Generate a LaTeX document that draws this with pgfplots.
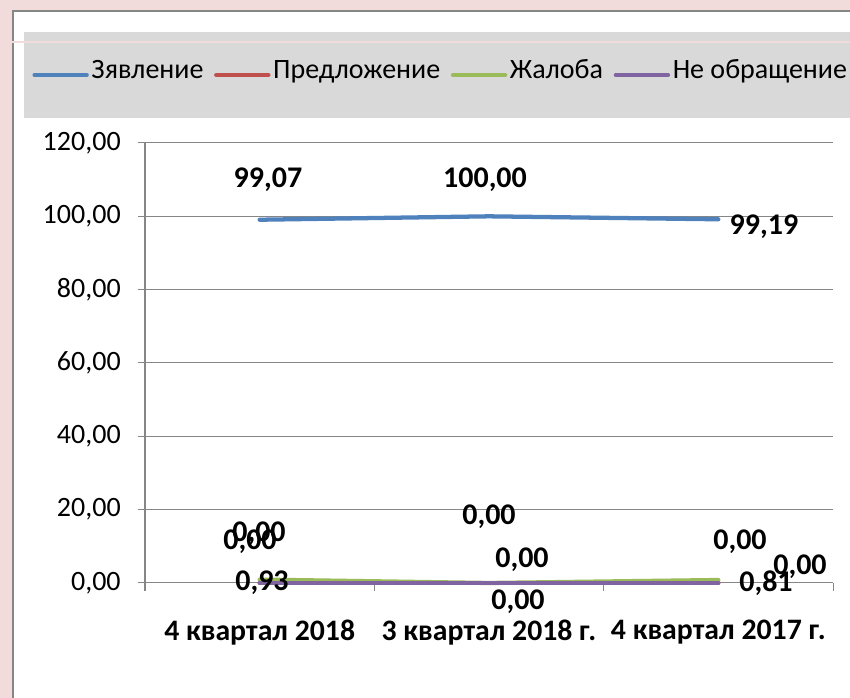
\documentclass[border=0pt]{standalone}
\usepackage{fontspec}
\setmainfont{Carlito}
\usepackage{pgfplots}
\pgfplotsset{compat=1.18}
\definecolor{bgpink}{HTML}{F2DCDB}
\definecolor{band}{HTML}{D9D9D9}
\definecolor{axgray}{HTML}{868686}
\definecolor{framegray}{HTML}{868686}
\definecolor{sblue}{HTML}{4F81BD}
\definecolor{sred}{HTML}{C0504D}
\definecolor{sgreen}{HTML}{9BBB59}
\definecolor{spurple}{HTML}{8064A2}
\begin{document}
\begin{tikzpicture}[x=0.75pt,y=0.75pt]
\fill[bgpink] (0,0) rectangle (850,698);
\fill[white] (13,-2) rectangle (852,687);
\draw[framegray, line width=1.5pt] (13,-2) -- (13,687) -- (852,687);
\fill[band] (24,580) rectangle (852,666);
\draw[bgpink, line width=1.1pt] (10,656) -- (852,656);
\begin{axis}[
  at={(108.75pt,86.25pt)}, anchor=south west, scale only axis,
  width=516pt, height=330pt,
  xmin=0.5, xmax=3.5, ymin=0, ymax=120,
  clip=false,
  axis lines*=left,
  axis line style={axgray, line width=0.75pt},
  ytick={0,20,...,120},
  ymajorgrids, grid style={axgray, line width=0.75pt},
  xtick={1,2,3},
  xticklabels={4 квартал 2018, 3 квартал 2018 г., 4 квартал 2017 г.},
  xtick style={draw=none},
  extra x ticks={0.5,1.5,2.5,3.5}, extra x tick labels={},
  extra x tick style={xtick style={draw=axgray, line width=0.75pt}, major tick length=6pt},
  ytick style={axgray, line width=0.75pt},
  tick align=outside, major tick length=5.25pt,
  yticklabel style={font=\fontsize{21}{25}\selectfont, anchor=east, inner sep=0pt, xshift=-12.8pt},
  xticklabel style={font=\bfseries\fontsize{22.3}{26}\selectfont, anchor=north, inner sep=0pt, yshift=-22.5pt},
  y tick label style={/pgf/number format/.cd, fixed, fixed zerofill, precision=2, use comma, assume math mode=true},
  legend style={at={(axis description cs:-0.164,1.1545)}, anchor=west, draw=none, fill=none, inner sep=0pt,
    font=\fontsize{21}{25}\selectfont, legend columns=4,
    /tikz/every even column/.append style={column sep=6pt},
    nodes={inner xsep=2pt, inner ysep=0pt, text height=0.72em, text depth=0.22em}},
  legend cell align=left,
  legend image code/.code={\draw[#1, line width=3.3pt, line cap=round] (0pt,0pt) -- (39pt,0pt);},
]
\addplot[sblue, line width=3.2pt, line cap=round] coordinates {(1,99.07) (2,100) (3,99.19)};
\addplot[sred, line width=3.2pt, line cap=round] coordinates {(1,0) (2,0) (3,0)};
\addplot[sgreen, line width=3.2pt, line cap=round] coordinates {(1,0.93) (2,0) (3,0.81)};
\addplot[spurple, line width=3.2pt, line cap=round] coordinates {(1,0) (2,0) (3,0)};
\legend{Зявление, Предложение, Жалоба, Не обращение}
\end{axis}
\tikzset{lbl/.style={font=\bfseries\fontsize{22.5}{26}\selectfont, inner sep=0pt}}
\node[lbl] at (268,518) {99,07};
\node[lbl] at (485,518) {100,00};
\node[lbl] at (764,471) {99,19};
\node[lbl] at (250,156) {0,00};
\node[lbl] at (259,164) {0,00};
\node[lbl] at (262,115) {0,93};
\node[lbl] at (489,181) {0,00};
\node[lbl] at (522,138) {0,00};
\node[lbl] at (518,96) {0,00};
\node[lbl] at (740,156) {0,00};
\node[lbl] at (800,131) {0,00};
\node[lbl] at (766,115) {0,81};
\pgfresetboundingbox
\useasboundingbox (0,0) rectangle (850,698);
\end{tikzpicture}
\end{document}
